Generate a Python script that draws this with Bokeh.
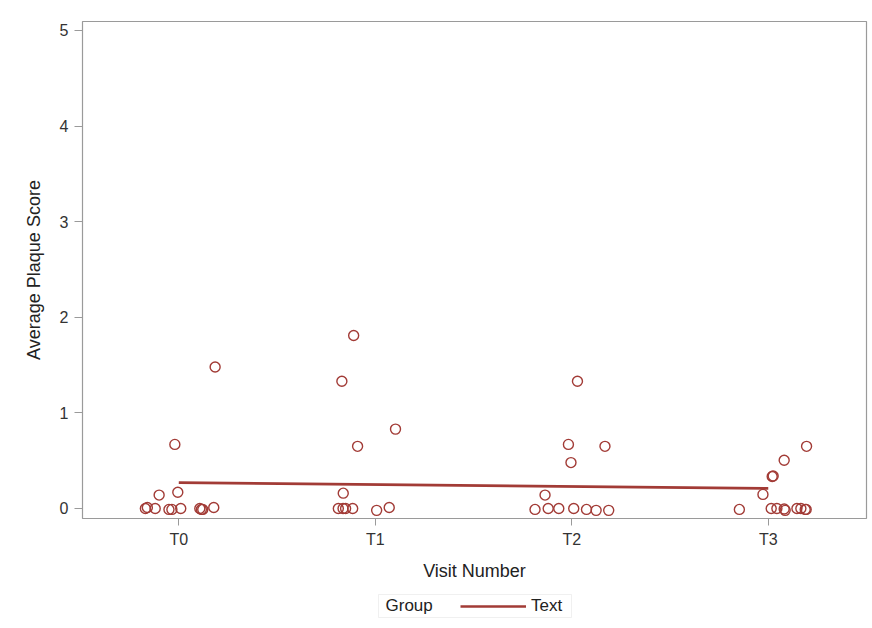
from bokeh.plotting import figure
from bokeh.layouts import column
from bokeh.models import (ColumnDataSource, Legend, LegendItem, FixedTicker, Range1d,
                          Label, BoxAnnotation)
from bokeh.embed import file_html
from bokeh.resources import INLINE

visits = ["T0", "T1", "T2", "T3"]

# horizontal jitter offset (category units) and plaque score per visit
t0_offset = [-0.17, -0.16, -0.12, -0.10, -0.05, -0.035, -0.02, -0.005, 0.01, 0.107, 0.115, 0.122, 0.178, 0.185]
t0_score  = [0.00, 0.01, 0.00, 0.14, -0.01, -0.01, 0.67, 0.17, 0.00, 0.00, -0.01, -0.01, 0.01, 1.48]

t1_offset = [-0.11, -0.17, 0.103, -0.09, -0.163, -0.188, -0.164, -0.151, -0.115, 0.007, 0.071]
t1_score  = [1.81, 1.33, 0.83, 0.65, 0.16, 0.00, 0.00, 0.00, 0.00, -0.02, 0.01]

t2_offset = [0.029, -0.017, 0.169, -0.004, -0.136, -0.187, -0.12, -0.066, 0.01, 0.075, 0.124, 0.188]
t2_score  = [1.33, 0.67, 0.65, 0.48, 0.14, -0.01, 0.00, 0.00, 0.00, -0.01, -0.02, -0.02]

t3_offset = [0.195, 0.081, 0.02, 0.025, -0.027, -0.147, 0.015, 0.044, 0.086, 0.081, 0.146, 0.166, 0.188, 0.193]
t3_score  = [0.65, 0.505, 0.335, 0.34, 0.147, -0.01, 0.00, 0.00, -0.02, -0.005, 0.00, 0.00, -0.01, -0.01]

trend_visit = [0, 3]
trend_score = [0.27, 0.21]

legend_title = "Group"
legend_label = "Text"

xs, ys = [], []
for i, (offs, scores) in enumerate([(t0_offset, t0_score), (t1_offset, t1_score),
                                    (t2_offset, t2_score), (t3_offset, t3_score)]):
    xs += [i + o for o in offs]
    ys += scores
pts = ColumnDataSource(dict(x=xs, y=ys))

FONT = "Liberation Sans"
GRAY = "#9a9a9a"
RED = "#a23b36"
W = 868

p = figure(width=W, height=590, output_backend="svg", toolbar_location=None,
           x_range=Range1d(-0.49, 3.5), y_range=Range1d(-0.105, 5.094),
           min_border_left=82, min_border_right=2, min_border_top=21, min_border_bottom=72)
p.background_fill_color = "white"
p.border_fill_color = "white"
p.outline_line_color = GRAY
p.outline_line_width = 1.2
p.grid.visible = False

p.scatter("x", "y", source=pts, size=10, marker="circle", fill_color=None,
          line_color=RED, line_width=1.4)
line_r = p.line(trend_visit, trend_score, line_color=RED, line_width=2.6)

p.xaxis.ticker = FixedTicker(ticks=[0, 1, 2, 3])
p.xaxis.major_label_overrides = {i: v for i, v in enumerate(visits)}
p.yaxis.ticker = FixedTicker(ticks=[0, 1, 2, 3, 4, 5])
for ax in (p.xaxis[0], p.yaxis[0]):
    ax.axis_line_color = None
    ax.major_tick_line_color = GRAY
    ax.major_tick_in = 0
    ax.minor_tick_line_color = None
    ax.major_label_text_font = FONT
    ax.major_label_text_font_size = "16px"
    ax.major_label_text_color = "#333333"
    ax.axis_label_text_font = FONT
    ax.axis_label_text_font_size = "18px"
    ax.axis_label_text_font_style = "normal"
    ax.axis_label_text_color = "#222222"
p.xaxis.axis_label = "Visit Number"
p.yaxis.axis_label = "Average Plaque Score"
p.xaxis.major_tick_out = 7
p.yaxis.major_tick_out = 8
p.xaxis.major_label_standoff = 5
p.xaxis.axis_label_standoff = 10
p.yaxis.major_label_standoff = 6
p.yaxis.axis_label_standoff = 13

# legend strip below the chart (its frame is aligned with the chart frame: 82..866 px)
lg = figure(width=W, height=34, output_backend="svg", toolbar_location=None,
            x_range=Range1d(82, 866), y_range=Range1d(0, 34),
            x_axis_type=None, y_axis_type=None,
            min_border_left=82, min_border_right=2, min_border_top=0, min_border_bottom=0)
lg.outline_line_color = None
lg.grid.visible = False
lg.background_fill_color = "white"
lg.border_fill_color = "white"
box = BoxAnnotation(left=378, right=571, top=30, bottom=7,
                    fill_color="white", fill_alpha=1.0,
                    line_color="#cccccc", line_width=1)
lg.add_layout(box)
# key renderer shares the trend data; it falls outside this strip's range, so only its legend key shows
key_r = lg.line(x=trend_visit, y=trend_score, line_color=RED, line_width=2.6)
legend = Legend(items=[LegendItem(label=legend_label, renderers=[key_r])],
                orientation="horizontal", location=(378, 8))
legend.label_text_font = FONT
legend.label_text_font_size = "17px"
legend.label_text_color = "#222222"
legend.border_line_color = None
legend.background_fill_alpha = 0
legend.glyph_width = 66
legend.label_standoff = 5
legend.padding = 0
legend.margin = 0
lg.add_layout(legend, "center")
grp = Label(x=385, y=19, text=legend_title, text_baseline="middle",
            text_font=FONT, text_font_size="17px", text_color="#222222")
lg.add_layout(grp)

layout = column(p, lg, spacing=0)
open("out.html", "w").write(file_html(layout, INLINE))
